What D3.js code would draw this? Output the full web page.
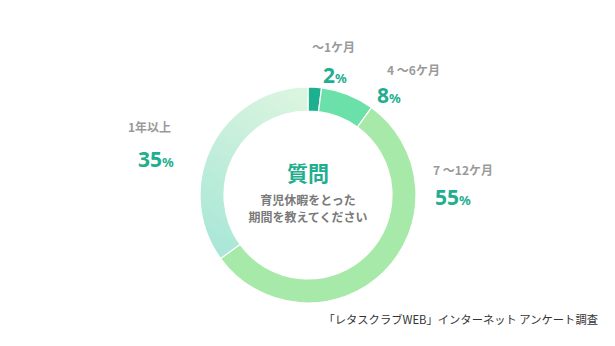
<!DOCTYPE html>
<html><head><meta charset="utf-8">
<script src="https://cdn.jsdelivr.net/npm/d3@7"></script>
<style>
html,body{margin:0;padding:0;background:#fff;}
svg{display:block;font-family:"Noto Sans CJK JP","Noto Sans",sans-serif;}
</style></head>
<body><svg id="c" width="615" height="346"></svg>
<script>
const categories = ["〜1ケ月", "4 〜6ケ月", "7 〜12ケ月", "1年以上"];
const values = [2, 8, 55, 35];
const percentLabels = ["2", "8", "55", "35"];
const sliceColors = ["#1db08f", "#6be0a9", "#a6e9a8", "url(#g35)"];

const W = 615, H = 346;
const cx = 308, cy = 195, rOut = 108, rIn = 84;
// label anchor positions (layout only)
const labelLayout = [
  {x: 312, y: 52, px: 323, py: 83},
  {x: 387, y: 75, px: 377, py: 103},
  {x: 433, y: 175, px: 435, py: 205},
  {x: 128, y: 132, px: 138, py: 167}
];

const svg = d3.select("#c");
const defs = svg.append("defs");
const g = defs.append("linearGradient").attr("id", "g35")
  .attr("gradientUnits", "userSpaceOnUse")
  .attr("x1", 205).attr("y1", 250).attr("x2", 300).attr("y2", 90);
g.append("stop").attr("offset", 0).attr("stop-color", "#a5e6d6");
g.append("stop").attr("offset", 1).attr("stop-color", "#d9f4df");

const pie = d3.pie().sort(null).value(d => d)(values);
const arc = d3.arc().innerRadius(rIn).outerRadius(rOut);
const chart = svg.append("g").attr("transform", `translate(${cx},${cy})`);
chart.selectAll("path").data(pie).join("path")
  .attr("d", arc)
  .attr("fill", (d, i) => sliceColors[i])
  .attr("stroke", "#fff").attr("stroke-width", 1.2);

// labels
categories.forEach((c, i) => {
  const L = labelLayout[i];
  svg.append("text").attr("x", L.x).attr("y", L.y)
    .attr("font-size", 12).attr("font-weight", 700).attr("fill", "#9a9a9a")
    .text(c);
  const t = svg.append("text").attr("x", L.px).attr("y", L.py)
    .attr("fill", "#1fae8e").attr("font-weight", 700).attr("font-family", "'Noto Sans','DejaVu Sans',sans-serif");
  t.append("tspan").attr("font-size", 21).text(percentLabels[i]);
  t.append("tspan").attr("font-size", 13).text("%");
});

// center
svg.append("text").attr("x", cx).attr("y", 181).attr("text-anchor", "middle")
  .attr("font-size", 21).attr("font-weight", 700).attr("fill", "#1fae8e").text("質問");
svg.append("text").attr("x", cx).attr("y", 205).attr("text-anchor", "middle")
  .attr("font-size", 12).attr("font-weight", 700).attr("fill", "#7a7a7a").text("育児休暇をとった");
svg.append("text").attr("x", cx).attr("y", 222).attr("text-anchor", "middle")
  .attr("font-size", 12).attr("font-weight", 700).attr("fill", "#7a7a7a").text("期間を教えてください");

// footer
svg.append("text").attr("x", 598).attr("y", 324).attr("text-anchor", "end")
  .attr("font-size", 11.3).attr("fill", "#333").text("「レタスクラブWEB」インターネット アンケート調査");
</script></body></html>
